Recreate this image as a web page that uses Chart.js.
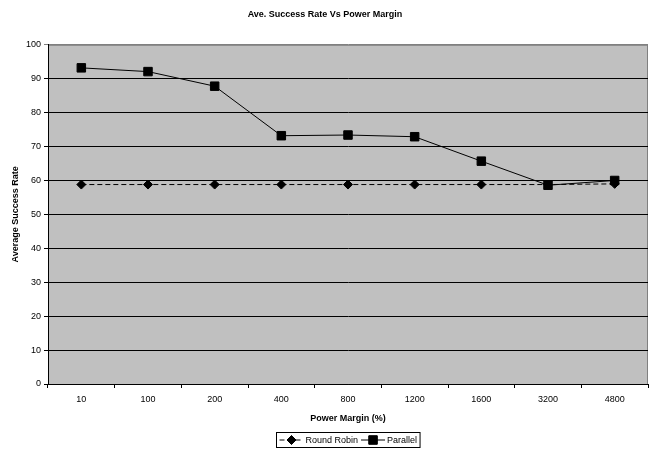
<!DOCTYPE html>
<html>
<head>
<meta charset="utf-8">
<script src="https://cdn.jsdelivr.net/npm/chart.js@4"></script>
<style>
  html, body { margin: 0; padding: 0; background: #fff; }
  #wrap { width: 655px; height: 451px; }
</style>
</head>
<body>
<div id="wrap"><canvas id="chart1" width="655" height="451"></canvas></div>
<script>
const powerMargins = ['10', '100', '200', '400', '800', '1200', '1600', '3200', '4800'];
const roundRobin = [58.8, 58.8, 58.8, 58.8, 58.8, 58.8, 58.8, 58.8, 59.0];
const parallel = [93.2, 92.1, 87.8, 73.2, 73.4, 72.9, 65.7, 58.6, 60.0];

const FONT = "'Liberation Sans', Arial, sans-serif";

// grey plot area with a thin frame, like the old Excel charts
const plotBackground = {
    id: 'plotBackground',
    beforeDraw(chart) {
        const { ctx, chartArea: a } = chart;
        ctx.save();
        ctx.fillStyle = '#c0c0c0';
        ctx.fillRect(a.left, a.top, a.right - a.left, a.bottom - a.top);
        ctx.strokeStyle = '#808080';
        ctx.lineWidth = 1;
        ctx.strokeRect(a.left + 0.5, a.top + 0.5, a.right - a.left - 1, a.bottom - a.top);
        ctx.restore();
    }
};

// boxed legend under the axis title, with line + marker samples
const boxLegend = {
    id: 'boxLegend',
    afterDraw(chart) {
        const { ctx } = chart;
        const items = chart.data.datasets;
        ctx.save();
        ctx.font = '9px ' + FONT;
        ctx.textBaseline = 'middle';
        const sample = 24, gap = 2, pad = 3;
        let total = pad;
        items.forEach(ds => { total += sample + gap + ctx.measureText(ds.label).width + pad; });
        const cx = (chart.chartArea.left + chart.chartArea.right) / 2;
        let x = Math.round(cx - total / 2) + 0.5;
        const top = 432.5, h = 15, y = top + h / 2;
        ctx.strokeStyle = '#000';
        ctx.lineWidth = 1;
        ctx.strokeRect(x, top, total, h);
        x += pad;
        items.forEach(ds => {
            ctx.beginPath();
            ctx.setLineDash(ds.borderDash || []);
            ctx.moveTo(x, y);
            ctx.lineTo(x + sample, y);
            ctx.stroke();
            ctx.setLineDash([]);
            Chart.helpers.drawPoint(ctx, {
                pointStyle: ds.pointStyle,
                radius: ds.pointRadius,
                borderWidth: 1
            }, x + sample / 2, y);
            ctx.fillStyle = '#000';
            ctx.fill();
            x += sample + gap;
            ctx.fillText(ds.label, x, y + 0.5);
            x += ctx.measureText(ds.label).width + pad;
        });
        ctx.restore();
    }
};

new Chart(document.getElementById('chart1').getContext('2d'), {
    type: 'line',
    data: {
        labels: powerMargins,
        datasets: [
            {
                label: 'Round Robin',
                data: roundRobin,
                borderColor: '#000',
                backgroundColor: '#000',
                borderWidth: 1,
                borderDash: [5, 3],
                pointStyle: 'rectRot',
                pointRadius: 4.5,
                pointHoverRadius: 4.5,
                tension: 0
            },
            {
                label: 'Parallel',
                data: parallel,
                borderColor: '#000',
                backgroundColor: '#000',
                borderWidth: 1,
                pointStyle: 'rect',
                pointRadius: 6,
                pointHoverRadius: 6,
                tension: 0
            }
        ]
    },
    options: {
        responsive: false,
        animation: false,
        layout: { padding: { left: 0, right: 5, top: 0, bottom: 27 } },
        scales: {
            x: {
                offset: true,
                grid: {
                    offset: true,
                    drawOnChartArea: false,
                    color: '#000',
                    tickLength: 4
                },
                border: { color: '#000' },
                ticks: { color: '#000', font: { family: FONT, size: 9 }, padding: 6, maxRotation: 0 },
                title: {
                    display: true,
                    text: 'Power Margin (%)',
                    color: '#000',
                    font: { family: FONT, size: 9, weight: 'bold' },
                    padding: { top: 7, bottom: 0 }
                },
                afterFit(scale) { scale.height = 40; }
            },
            y: {
                min: 0,
                max: 100,
                ticks: { stepSize: 10, color: '#000', font: { family: FONT, size: 9 }, padding: 3 },
                grid: {
                    color: c => (c.tick && c.tick.value === 100 ? '#808080' : '#000'),
                    tickLength: 4
                },
                border: { color: '#000' },
                title: {
                    display: true,
                    text: 'Average Success Rate',
                    color: '#000',
                    font: { family: FONT, size: 9, weight: 'bold' },
                    padding: { top: 10, bottom: 0 }
                },
                afterFit(scale) { scale.width = 48; }
            }
        },
        plugins: {
            legend: { display: false },
            tooltip: { enabled: false },
            title: {
                display: true,
                text: 'Ave. Success Rate Vs Power Margin',
                color: '#000',
                font: { family: FONT, size: 9, weight: 'bold' },
                padding: { top: 9, bottom: 25 }
            }
        }
    },
    plugins: [plotBackground, boxLegend]
});
</script>
</body>
</html>
